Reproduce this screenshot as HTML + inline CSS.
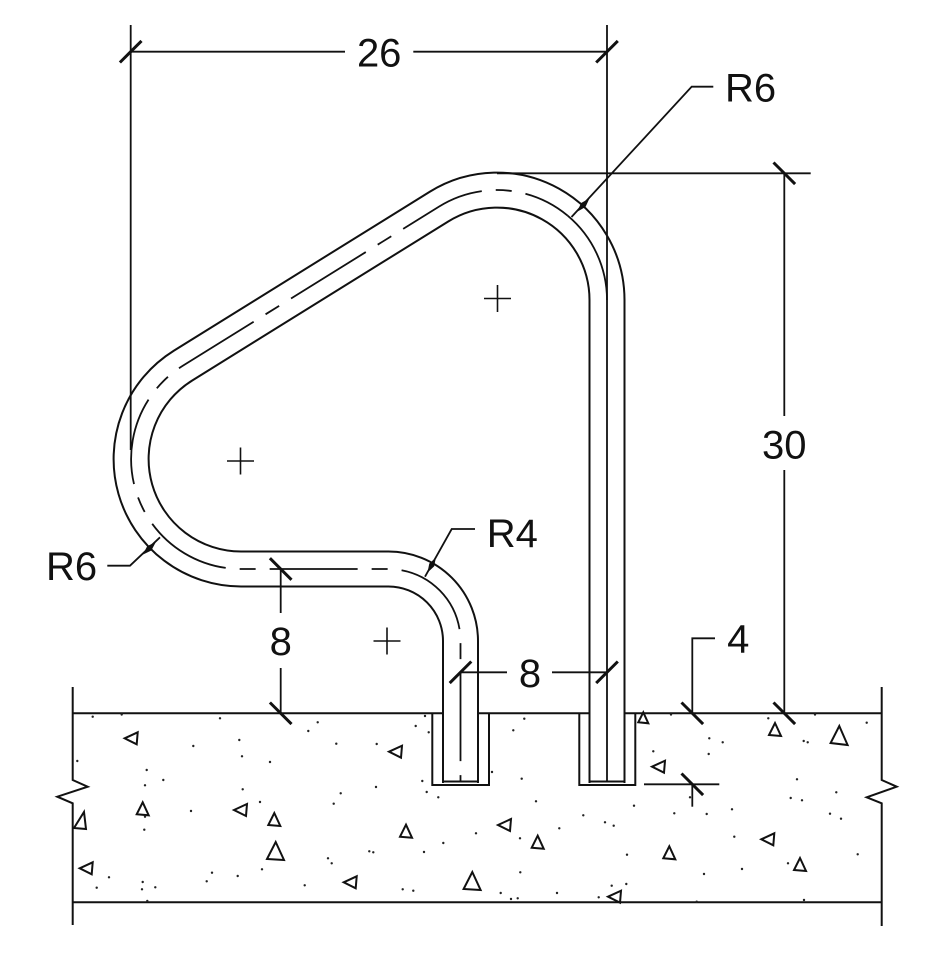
<!DOCTYPE html>
<html><head><meta charset="utf-8"><style>
html,body{margin:0;padding:0;background:#fff;}
svg{display:block;}
text{font-family:"Liberation Sans",Arial,sans-serif;font-size:40px;fill:#111;}
</style></head><body>
<svg width="938" height="966" viewBox="0 0 938 966" xmlns="http://www.w3.org/2000/svg">
<rect width="938" height="966" fill="#fff"/>

<!-- pipe walls -->
<g fill="none" stroke-linejoin="round">
<path d="M607 783 L607 300 A110 110 0 0 0 439 206.6 L183 365.6 A110 110 0 0 0 241 569 L388.5 569 A72 72 0 0 1 460.5 641 L460.5 783" stroke="#111" stroke-width="37"/>
<path d="M607 790 L607 300 A110 110 0 0 0 439 206.6 L183 365.6 A110 110 0 0 0 241 569 L388.5 569 A72 72 0 0 1 460.5 641 L460.5 790" stroke="#fff" stroke-width="33"/>
</g>
<!-- centerline -->
<g fill="none" stroke="#111" stroke-width="1.8">
<path d="M607 300 A110 110 0 0 0 567.7 215.7"/>
<path d="M567.7 215.7 A110 110 0 0 0 439 206.6 L183 365.6 A110 110 0 0 0 241 569 L388.5 569 A72 72 0 0 1 460.5 641 L460.5 781" stroke-dasharray="88 14 16 14" stroke-dashoffset="40"/>
</g>

<!-- slab, sleeves -->
<g stroke="#111" stroke-width="2" fill="none">
<line x1="72.7" y1="713.3" x2="442.5" y2="713.3"/>
<line x1="478.5" y1="713.3" x2="589.5" y2="713.3"/>
<line x1="625.5" y1="713.3" x2="881.7" y2="713.3"/>
<line x1="72.7" y1="902.3" x2="881.7" y2="902.3"/>
<polyline points="72.7,687 72.7,780 87.7,786.7 57.3,796.7 72.7,803.3 72.7,925"/>
<polyline points="881.7,687 881.7,780 896.7,786.7 866.7,797.3 881.7,803.3 881.7,926"/>
<polyline points="432.3,713.3 432.3,785 489,785 489,713.3"/>
<polyline points="579.3,713.3 579.3,785 635.3,785 635.3,713.3"/>
<line x1="442.5" y1="781.5" x2="478.5" y2="781.5"/>
<line x1="589.5" y1="781.5" x2="625.5" y2="781.5"/>
</g>

<!-- concrete triangles -->
<g fill="none" stroke="#111" stroke-width="2" stroke-linejoin="miter">
<polygon points="124.7,738.3 137.7,732.3 136.7,744.3"/>
<polygon points="389,751.7 402,745.7 401,757.7"/>
<polygon points="142.7,802.3 148.7,815.3 136.7,814.3"/>
<polygon points="84,812 86,829 74,828"/>
<polygon points="234,810 247,804 246,816"/>
<polygon points="274.3,813 280.3,826 268.3,825"/>
<polygon points="275.7,842 284,860 267,859"/>
<polygon points="406,824.7 412,837.7 400,836.7"/>
<polygon points="79.7,868.3 92.7,862.3 91.7,874.3"/>
<polygon points="343.7,882.3 356.7,876.3 355.7,888.3"/>
<polygon points="472.3,872 480.6,890 463.6,889"/>
<polygon points="643.3,712.3 648.3,723.3 638.3,722.3"/>
<polygon points="775,723 781,736 769,735"/>
<polygon points="839.3,726 847.6,745 830.6,743"/>
<polygon points="652,766.7 665,760.7 664,772.7"/>
<polygon points="498,825 511,819 510,831"/>
<polygon points="537.7,835.7 543.7,848.7 531.7,847.7"/>
<polygon points="669.3,846.3 675.3,859.3 663.3,858.3"/>
<polygon points="761.3,839.3 774.3,833.3 773.3,845.3"/>
<polygon points="800,858 806,871 794,870"/>
<polygon points="608,896.7 621,890.7 620,902.7"/>
</g>
<!-- concrete dots -->
<g fill="#222">
<circle cx="92.7" cy="716.7" r="1.2"/><circle cx="121.7" cy="714.5" r="1.2"/><circle cx="220" cy="718.3" r="1.2"/><circle cx="77.3" cy="761" r="1.2"/><circle cx="193.3" cy="746" r="1.2"/><circle cx="239.3" cy="740" r="1.2"/><circle cx="242" cy="756.3" r="1.2"/><circle cx="270" cy="762" r="1.2"/><circle cx="146.7" cy="770" r="1.2"/><circle cx="145" cy="785.3" r="1.2"/><circle cx="163.3" cy="780" r="1.2"/><circle cx="242.7" cy="789.3" r="1.2"/><circle cx="260" cy="802" r="1.2"/><circle cx="191" cy="811" r="1.2"/><circle cx="145" cy="816.7" r="1.2"/><circle cx="144.3" cy="829.7" r="1.2"/><circle cx="308.3" cy="731" r="1.2"/><circle cx="317.7" cy="722.3" r="1.2"/><circle cx="336.3" cy="743.7" r="1.2"/><circle cx="376.7" cy="744" r="1.2"/><circle cx="415.7" cy="726" r="1.2"/><circle cx="425" cy="716" r="1.2"/><circle cx="428.7" cy="732.3" r="1.2"/><circle cx="422.3" cy="781" r="1.2"/><circle cx="426.7" cy="792" r="1.2"/><circle cx="438.3" cy="797.3" r="1.2"/><circle cx="376" cy="787" r="1.2"/><circle cx="340.7" cy="793.3" r="1.2"/><circle cx="333.7" cy="803.7" r="1.2"/><circle cx="328" cy="858.3" r="1.2"/><circle cx="331.7" cy="863.3" r="1.2"/><circle cx="369.3" cy="851.3" r="1.2"/><circle cx="373.3" cy="852.3" r="1.2"/><circle cx="424" cy="852" r="1.2"/><circle cx="443.3" cy="843" r="1.2"/><circle cx="476" cy="833.3" r="1.2"/><circle cx="262" cy="869.3" r="1.2"/><circle cx="237.7" cy="876" r="1.2"/><circle cx="212" cy="872.7" r="1.2"/><circle cx="206.7" cy="881.3" r="1.2"/><circle cx="109" cy="877.3" r="1.2"/><circle cx="96.7" cy="887.7" r="1.2"/><circle cx="142.7" cy="882" r="1.2"/><circle cx="142" cy="889.3" r="1.2"/><circle cx="155.3" cy="887.3" r="1.2"/><circle cx="147.3" cy="901" r="1.2"/><circle cx="304.7" cy="885.3" r="1.2"/><circle cx="402.7" cy="889.3" r="1.2"/><circle cx="413.3" cy="890.7" r="1.2"/>
<circle cx="524.3" cy="718.7" r="1.2"/><circle cx="513.3" cy="730.3" r="1.2"/><circle cx="492" cy="772" r="1.2"/><circle cx="521.7" cy="778.7" r="1.2"/><circle cx="671" cy="714.5" r="1.2"/><circle cx="709.3" cy="738.3" r="1.2"/><circle cx="722.7" cy="742.3" r="1.2"/><circle cx="708.7" cy="754" r="1.2"/><circle cx="653.3" cy="751.3" r="1.2"/><circle cx="768.3" cy="718.3" r="1.2"/><circle cx="815" cy="714.5" r="1.2"/><circle cx="866.7" cy="722.7" r="1.2"/><circle cx="803.7" cy="741" r="1.2"/><circle cx="807.7" cy="742.3" r="1.2"/><circle cx="797" cy="779.3" r="1.2"/><circle cx="790.7" cy="798" r="1.2"/><circle cx="802" cy="800.3" r="1.2"/><circle cx="836.3" cy="792.3" r="1.2"/><circle cx="830" cy="813.7" r="1.2"/><circle cx="841" cy="818.7" r="1.2"/><circle cx="690" cy="797.3" r="1.2"/><circle cx="536" cy="801.3" r="1.2"/><circle cx="634" cy="805.7" r="1.2"/><circle cx="674.3" cy="813.3" r="1.2"/><circle cx="706.7" cy="814" r="1.2"/><circle cx="732" cy="809.3" r="1.2"/><circle cx="583.3" cy="815.3" r="1.2"/><circle cx="605" cy="822.3" r="1.2"/><circle cx="613.7" cy="825.7" r="1.2"/><circle cx="559.3" cy="828.3" r="1.2"/><circle cx="520" cy="838.3" r="1.2"/><circle cx="734.3" cy="836.7" r="1.2"/><circle cx="627" cy="854.7" r="1.2"/><circle cx="857.7" cy="854.3" r="1.2"/><circle cx="520.3" cy="872.3" r="1.2"/><circle cx="704" cy="874" r="1.2"/><circle cx="742" cy="869" r="1.2"/><circle cx="788" cy="863.3" r="1.2"/><circle cx="611.7" cy="885.7" r="1.2"/><circle cx="626.3" cy="884" r="1.2"/><circle cx="500.7" cy="893" r="1.2"/><circle cx="511" cy="899" r="1.2"/><circle cx="517.7" cy="898.3" r="1.2"/><circle cx="557" cy="893" r="1.2"/><circle cx="598.7" cy="897.3" r="1.2"/><circle cx="696.7" cy="901.7" r="1.2"/><circle cx="804" cy="900" r="1.2"/>
</g>

<!-- center marks -->
<g stroke="#111" stroke-width="1.6">
<line x1="484" y1="298.5" x2="511" y2="298.5"/><line x1="497.5" y1="285" x2="497.5" y2="312"/>
<line x1="227" y1="461" x2="254" y2="461"/><line x1="240.5" y1="447.5" x2="240.5" y2="474.5"/>
<line x1="373.5" y1="641" x2="400.5" y2="641"/><line x1="387" y1="627.5" x2="387" y2="654.5"/>
</g>

<!-- dimension & extension lines -->
<g stroke="#111" stroke-width="1.8" fill="none">
<line x1="130.7" y1="25" x2="130.7" y2="450"/>
<line x1="607" y1="25" x2="607" y2="782"/>
<line x1="130.7" y1="51.7" x2="345" y2="51.7"/>
<line x1="413.3" y1="51.7" x2="607" y2="51.7"/>
<line x1="497" y1="173.3" x2="810.7" y2="173.3"/>
<line x1="784.3" y1="173.3" x2="784.3" y2="416"/>
<line x1="784.3" y1="470" x2="784.3" y2="713.3"/>
<line x1="280.7" y1="569" x2="280.7" y2="613"/>
<line x1="280.7" y1="668" x2="280.7" y2="713.3"/>
<line x1="460.5" y1="672.3" x2="507" y2="672.3"/>
<line x1="552" y1="672.3" x2="607" y2="672.3"/>
<polyline points="715,638.3 692.3,638.3 692.3,713.3"/>
<line x1="644" y1="784.3" x2="719.3" y2="784.3"/>
<line x1="692.3" y1="784.3" x2="692.3" y2="806.7"/>
<!-- leaders -->
<polyline points="713.3,86.7 691.7,86.7 571.5,217"/>
<polyline points="107.3,565.7 130,565.7 160,537.3"/>
<polyline points="475,529 451.7,529 425,576.7"/>
</g>
<!-- ticks -->
<g stroke="#111" stroke-width="3" stroke-linecap="butt">
<line x1="119.9" y1="62.5" x2="141.5" y2="40.9"/>
<line x1="596.2" y1="62.5" x2="617.8" y2="40.9"/>
<line x1="773.5" y1="162.5" x2="795.1" y2="184.1"/>
<line x1="773.5" y1="702.5" x2="795.1" y2="724.1"/>
<line x1="269.9" y1="558.2" x2="291.5" y2="579.8"/>
<line x1="269.9" y1="702.5" x2="291.5" y2="724.1"/>
<line x1="449.7" y1="683.1" x2="471.3" y2="661.5"/>
<line x1="596.2" y1="683.1" x2="617.8" y2="661.5"/>
<line x1="681.5" y1="702.5" x2="703.1" y2="724.1"/>
<line x1="681.5" y1="773.5" x2="703.1" y2="795.1"/>
</g>
<!-- arrowheads -->
<g fill="#111" stroke="#111" stroke-width="1">
<polygon points="578.2,210.5 585.1,206.7 588.4,199.5 581.5,203.3"/>
<polygon points="143.9,553.5 151,550.1 154.7,543.1 147.6,546.5"/>
<polygon points="428.3,571.1 433.7,566.1 435.1,558.9 429.7,563.9"/>
</g>

<!-- labels -->
<text x="379.2" y="66.7" text-anchor="middle">26</text>
<text x="725" y="101.7">R6</text>
<text x="784.3" y="458.3" text-anchor="middle">30</text>
<text x="46" y="580">R6</text>
<text x="486.7" y="547">R4</text>
<text x="280.7" y="655" text-anchor="middle">8</text>
<text x="530" y="687" text-anchor="middle">8</text>
<text x="738.3" y="652.7" text-anchor="middle">4</text>
</svg>
</body></html>
